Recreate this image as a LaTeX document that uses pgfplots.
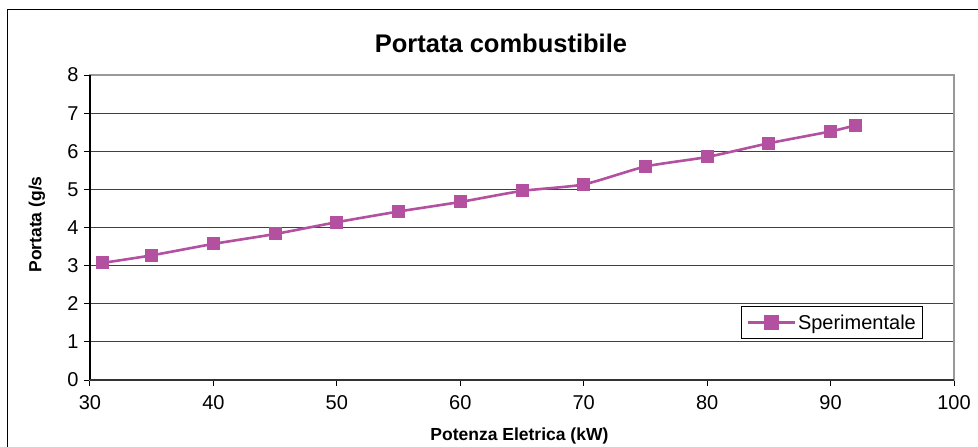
\documentclass[border=0pt]{standalone}
\usepackage{pgfplots}
\pgfplotsset{compat=1.18}
\usepackage{fontspec}
\setmainfont{Liberation Sans}
\definecolor{serie}{HTML}{B3509F}
\begin{document}
\begin{tikzpicture}[x=1pt,y=-1pt]
\useasboundingbox (0,0) rectangle (978,447);
\begin{scope}
\clip (0,0) rectangle (978,447);
\draw[black, line width=1pt] (7,9) rectangle (990,460);
\end{scope}
\node[font=\fontsize{25.5}{28}\selectfont\bfseries] at (501,43) {Portata combustibile};
\begin{axis}[
  at={(90pt,-380pt)}, anchor=south west,
  scale only axis, width=864pt, height=305pt,
  xmin=30, xmax=100, ymin=0, ymax=8,
  xtick={30,40,...,100}, ytick={0,1,...,8},
  /pgf/number format/assume math mode=true,
  ticklabel style={font=\fontsize{20}{24}\selectfont},
  tick align=outside, major tick length=6pt,
  tick style={black, line width=1pt},
  xtick pos=bottom, ytick pos=left,
  ymajorgrids, grid style={black!75, line width=1pt},
  axis line style={gray!80, line width=1.2pt},
  axis x line*=box, axis y line*=box,
  xticklabel style={yshift=-6pt},
  yticklabel style={xshift=-2pt},
  xlabel={Potenza Eletrica (kW)},
  ylabel={Portata (g/s},
  label style={font=\fontsize{17.5}{20}\selectfont\bfseries},
  xlabel style={at={(axis description cs:0.497,0)}, anchor=center, yshift=-56pt},
  ylabel style={at={(axis description cs:0,0.51)}, anchor=center, rotate=0, yshift=53pt},
  legend style={at={(741pt-90pt,{(380-339)*1pt})}, anchor=south west, draw=black, line width=0.8pt,
    font=\fontsize{20}{24}\selectfont, inner xsep=5pt, inner ysep=6pt, cells={anchor=west}},
  legend cell align=left,
  legend image code/.code={
    \draw[serie, line width=2.6pt] (0pt,0pt) -- (47pt,0pt);
    \fill[serie] (17.5pt,-6pt) rectangle (29.5pt,6pt);
  },
  clip=false,
]
\draw[black, line width=1.2pt] (axis cs:30,0) -- (axis cs:30,8);
\draw[black!80, line width=1.6pt] (axis cs:30,0) -- (axis cs:100,0);
\addplot[color=serie, line width=2.6pt, smooth, tension=0.35, mark=square*, mark size=6pt,
  mark options={fill=serie, draw=serie, line width=0pt}] coordinates {
(31,3.07) (35,3.27) (40,3.57) (45,3.83) (50,4.14) (55,4.42) (60,4.67)
(65,4.96) (70,5.13) (75,5.60) (80,5.85) (85,6.21) (90,6.52) (92,6.68)
};
\addlegendentry{Sperimentale}
\end{axis}
\end{tikzpicture}
\end{document}
